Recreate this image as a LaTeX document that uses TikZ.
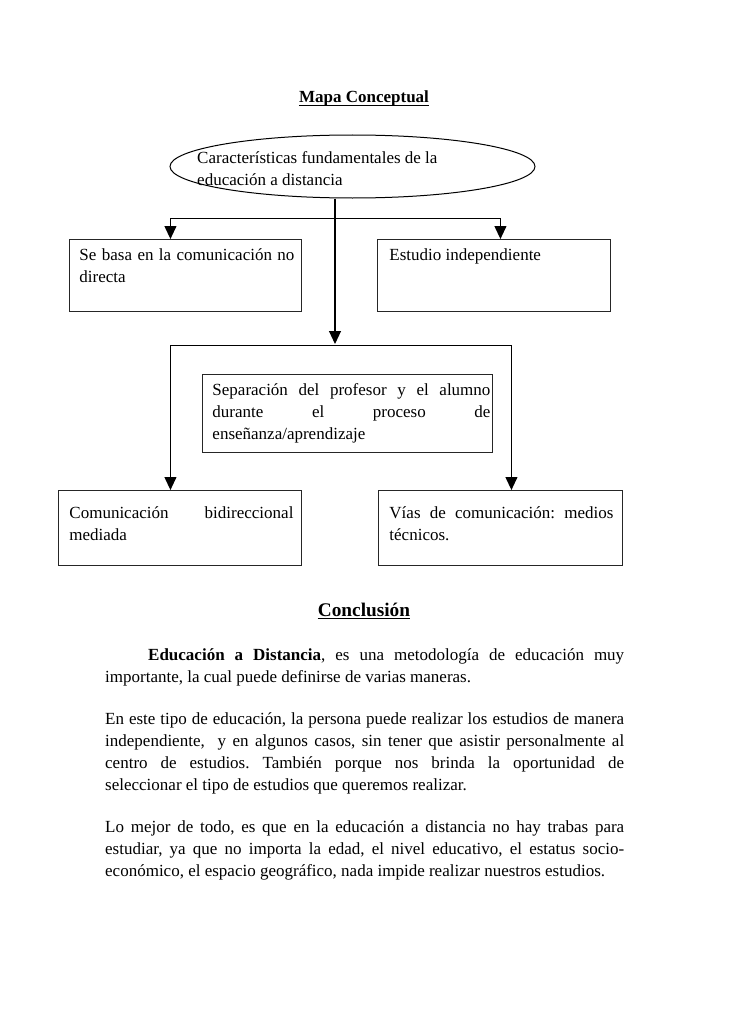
\documentclass[tikz,border=0pt]{standalone}
\usepackage{fontspec}
\setmainfont{Liberation Serif}
\usetikzlibrary{arrows.meta,shapes.geometric,calc}
\tikzset{
  body/.style={font=\fontsize{17}{22}\selectfont\frenchspacing},
  cbox/.style={draw=black!85,line width=0.9pt,body,anchor=north west,inner sep=0pt,align=justify},
  conn/.style={line width=1.1pt,-{Triangle[length=13pt,width=12pt]}},
  plain/.style={line width=1.1pt},
  para/.style={body,anchor=base west,inner sep=0pt,text width=519pt,align=justify}
}
\newcommand{\boxtext}[3]{\hspace*{#1}\parbox[t]{#2}{\fontsize{17}{22}\selectfont\frenchspacing #3}}
\begin{document}
\begin{tikzpicture}[x=1pt,y=-1pt]
\useasboundingbox (0,0) rectangle (728,1030);
% title
\node[inner sep=0pt,anchor=base,font=\fontsize{17}{22}\selectfont\bfseries] (title) at (364,103) {Mapa Conceptual};
\draw[line width=0.9pt] ([yshift=-2.5pt]title.base west) -- ([yshift=-2.5pt]title.base east);
% ellipse
\node[ellipse,draw,line width=1pt,minimum width=365pt,minimum height=63pt,inner sep=0pt] (ell) at (352.5,166.5) {};
\node[body,anchor=base west,inner sep=0pt,align=left] (elltext) at (197,185) {Características fundamentales de la\\educación a distancia};
% boxes
\node[cbox,text width=232pt,text height=21pt,text depth=51pt] (b1) at (69,239) {\boxtext{10pt}{215pt}{Se basa en la comunicación no\linebreak directa}};
\node[cbox,text width=233pt,text height=21pt,text depth=51pt] (b2) at (377,239) {\boxtext{12pt}{213pt}{Estudio independiente}};
\node[cbox,text width=290pt,text height=21pt,text depth=57pt] (b5) at (202,374) {\boxtext{10pt}{278pt}{Separación del profesor y el alumno\linebreak durante el proceso de\linebreak enseñanza/aprendizaje}};
\node[cbox,text width=243pt,text height=28pt,text depth=47pt] (b3) at (58,490) {\boxtext{11pt}{224pt}{Comunicación bidireccional\linebreak mediada}};
\node[cbox,text width=244pt,text height=28pt,text depth=47pt] (b4) at (378,490) {\boxtext{11pt}{224pt}{Vías de comunicación: medios\linebreak técnicos.}};
% junctions
\coordinate (ja) at ($(ell.south)+(-17.5,20)$);
\coordinate (jb) at ($(ell.south)+(-17.5,147)$);
\draw[plain] ($(ell.south)+(-17.5,0)$) -- (ja);
\draw[conn] (ja) -| ($(b1.north)+(-15,0)$);
\draw[conn] (ja) -| ($(b2.north)+(6.5,0)$);
\draw[conn] (ja) -- ($(jb)+(0,-1.5)$);
\draw[conn] (jb) -| ($(b3.north)+(-9.5,0)$);
\draw[conn] (jb) -| ($(b4.north)+(11,0)$);
% conclusion
\node[inner sep=0pt,anchor=base,font=\fontsize{19.3}{23}\selectfont\bfseries] (concl) at (364,616) {Conclusión};
\draw[line width=1pt] ([yshift=-2.8pt]concl.base west) -- ([yshift=-2.8pt]concl.base east);
\node[para] (p1) at (105,660) {\hspace*{43pt}\textbf{Educación a Distancia}, es una metodología de educación muy\linebreak importante, la cual puede definirse de varias maneras.};
\node[para] (p2) at (105,724) {En este tipo de educación, la persona puede realizar los estudios de manera\linebreak independiente, \ y en algunos casos, sin tener que asistir personalmente al\linebreak centro de estudios. También porque nos brinda la oportunidad de\linebreak seleccionar el tipo de estudios que queremos realizar.};
\node[para] (p3) at (105,832) {Lo mejor de todo, es que en la educación a distancia no hay trabas para\linebreak estudiar, ya que no importa la edad, el nivel educativo, el estatus socio-\linebreak económico, el espacio geográfico, nada impide realizar nuestros estudios.};
\end{tikzpicture}
\end{document}
